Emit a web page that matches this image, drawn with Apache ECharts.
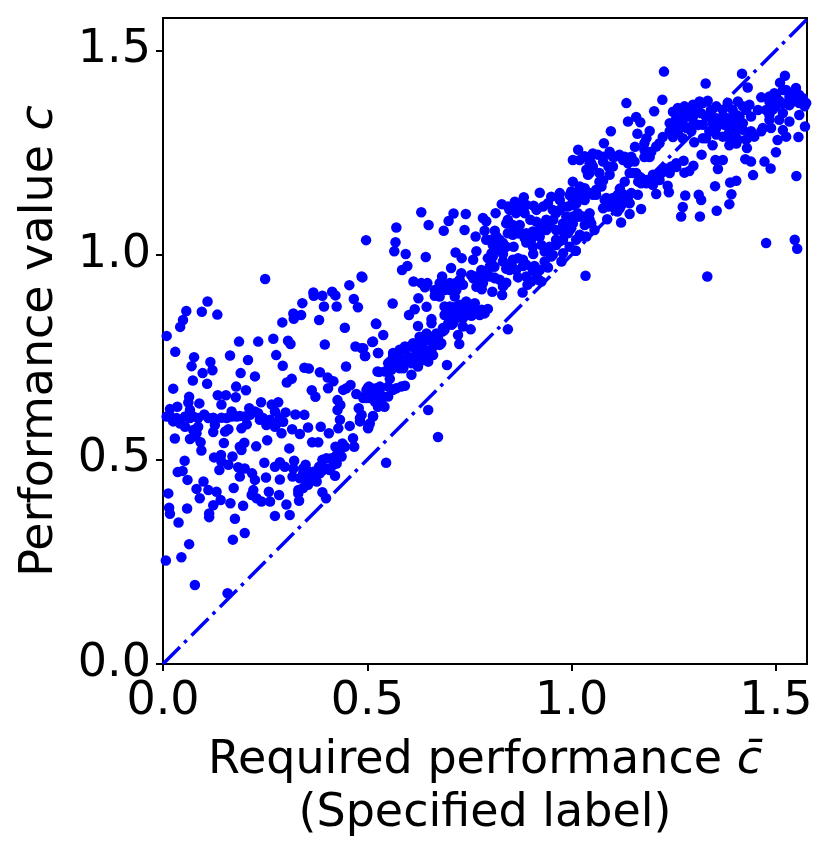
<!DOCTYPE html>
<html><head><meta charset="utf-8">
<style>html,body{margin:0;padding:0;background:#fff}#c{width:831px;height:852px}</style>
<script src="https://cdn.jsdelivr.net/npm/echarts@6/dist/echarts.min.js"></script>
</head><body><div id="c"></div>
<script>
const xLimit = 1.576, yLimit = 1.579;
const diagonal = [[0,0],[1.6,1.6]];
const lowRange = [[.25,.941],[.486,.947],[.456,.926],[.368,.908],[.369,.9],[.39,.9],[.414,.91],[.422,.901],[.467,.892],[.477,.872],[.425,.874],[.394,.874],[.341,.882],[.319,.857],[.338,.853],[.32,.844],[.292,.835],[.382,.841],[.109,.886],[.057,.863],[.095,.861],[.133,.854],[.049,.841],[.042,.824],[.009,.802],[.445,.822],[.521,.832],[.186,.788],[.233,.788],[.27,.795],[.306,.79],[.312,.782],[.396,.781],[.514,.788],[.471,.776],[.49,.772],[.495,.753],[.526,.76],[.03,.763],[.076,.75],[.164,.754],[.208,.743],[.277,.755],[.116,.738],[.07,.728],[.121,.718],[.293,.729],[.346,.724],[.357,.722],[.448,.727],[.19,.711],[.097,.711],[.225,.703],[.384,.713],[.403,.7],[.417,.691],[.404,.674],[.525,.715],[.073,.693],[.108,.685],[.315,.697],[.303,.688],[.179,.678],[.203,.669],[.025,.673],[.364,.669],[.373,.653],[.134,.657],[.154,.657],[.178,.652],[.143,.634],[.064,.653],[.089,.637],[.062,.639],
[.017,.623],[.035,.629],[.009,.605],[.025,.593],[.042,.588],[.054,.58],[.066,.621],[.074,.605],[.086,.58],[.101,.61],[.123,.602],[.143,.602],[.168,.617],[.168,.605],[.188,.606],[.211,.625],[.213,.609],[.233,.613],[.24,.64],[.266,.634],[.282,.64],[.274,.617],[.3,.615],[.324,.61],[.346,.609],[.237,.597],[.253,.584],[.274,.58],[.29,.564],[.294,.592],[.316,.574],[.335,.562],[.355,.578],[.386,.58],[.406,.564],[.205,.586],[.192,.576],[.16,.574],[.152,.568],[.123,.567],[.127,.584],[.029,.551],[.066,.55],[.078,.556],[.092,.542],[.094,.522],[.149,.54],[.199,.541],[.188,.531],[.192,.523],[.228,.532],[.255,.547],[.309,.527],[.365,.542],[.38,.542],
[.427,.645],[.434,.633],[.427,.621],[.433,.597],[.429,.576],[.441,.67],[.459,.682],[.473,.66],[.502,.676],[.522,.674],[.506,.65],[.479,.625],[.486,.609],[.514,.606],[.457,.582],[.482,.593],[.502,.576],[.465,.552],[.468,.531],[.439,.539],[.422,.531],[.437,.507],
[.125,.505],[.142,.511],[.17,.507],[.143,.495],[.16,.487],[.138,.474],[.053,.497],[.036,.469],[.048,.472],[.06,.45],[.184,.481],[.2,.478],[.188,.458],[.218,.466],[.225,.45],[.252,.456],[.248,.492],[.274,.482],[.286,.493],[.298,.482],[.286,.451],[.321,.497],[.319,.478],[.317,.458],[.349,.487],[.343,.466],[.359,.458],[.376,.446],[.39,.499],[.392,.474],[.412,.503],[.408,.474],[.421,.46],[.425,.49],
[.099,.446],[.082,.428],[.111,.425],[.131,.421],[.09,.405],[.141,.401],[.123,.388],[.113,.368],[.113,.359],[.173,.43],[.165,.393],[.196,.387],[.176,.355],[.2,.32],[.171,.304],[.221,.425],[.217,.413],[.229,.405],[.241,.397],[.262,.397],[.259,.421],[.284,.413],[.302,.39],[.274,.362],[.31,.364],[.331,.417],[.333,.399],[.343,.43],[.355,.438],[.39,.42],[.399,.405],[.013,.417],[.015,.382],[.017,.367],[.059,.38],[.038,.346],[.064,.293],[.045,.261],[.007,.253],[.078,.193],[.158,.173],
[.351,.474],[.368,.47],[.384,.466],[.4,.478],[.417,.487],[.335,.454],[.351,.446],[.363,.454],[.382,.482],[.4,.503],[.331,.425],[.343,.478],[.017,.605],[.033,.601],[.054,.605],[.066,.601],[.086,.601],[.111,.601],[.156,.601],[.18,.605],[.2,.605],[.225,.617],[.245,.601],[.262,.597],[.286,.601],[.278,.588],[.074,.572],[.082,.564],[.498,.67],[.514,.657],[.526,.65],[.49,.65],[.526,.629],[.482,.601],[.506,.588],[.433,.523],[.425,.511],[.445,.531],[.449,.674]];
const midRange = [[.632,1.104],[.65,1.073],[.711,1.101],[.741,1.1],[.699,1.083],[.687,1.059],[.738,1.061],[.571,1.067],[.497,1.036],[.569,1.031],[.566,1.009],[.594,1.002],[.643,.995],[.598,.973],[.585,.963],[.488,.945],[.613,.935],[.632,.931],[.647,.931],[.641,.921],[.683,.947],[.705,.968],[.716,1.006],[.731,.992],[.759,.988],[.767,1.009],[.783,1.09],[.791,1.082],[.765,1.045],[.787,1.059],[.812,1.059],[.814,1.102],[.829,1.124],[.856,1.118],[.883,1.141],[.864,1.102],[.84,1.077],[.873,1.073],[.899,1.086],[.907,1.12],[.922,1.152],[.942,1.126],[.971,1.134],[.995,1.146],[1.003,1.122],[.962,1.102],[.946,1.073],[.987,1.094],[.995,1.061],[1.02,1.045],[.856,1.049],[.889,1.03],[.922,1.045],[.905,1.057],[.858,1.02],[.791,1.037],[.807,1.024],[.832,1.002],[.807,.996],[.8,.972],[.784,.955],[.754,.951],[.73,.955],[.734,.927],[.718,.914],[.702,.931],[.677,.931],[.665,.9],[.625,.894],[.645,.873],[.562,.881],[.616,.867],[.602,.853],[.689,.874],[.718,.874],[.742,.886],[.763,.882],[.795,.868],[.787,.857],[.767,.857],[.726,.857],[.698,.851],[.657,.843],[.755,.851],[.734,.825],[.753,.818],[.722,.804],[.725,.782],[.706,.829],[.689,.817],[.657,.833],[.522,.831],[.624,.826],[.628,.8],[.539,.804],[.512,.787],[.653,.8],[.677,.78],[.661,.755],[.612,.784],[.592,.776],[.563,.76],[.527,.76],[.494,.753],[.486,.772],[.649,.739],[.624,.727],[.588,.743],[.555,.739],[.695,.731],[.608,.707],[.579,.723],[.529,.714],[.555,.697],[.592,.68],[.563,.67],[.649,.621],[.673,.555],[.546,.492],[.504,.678],[.522,.67],[.538,.654],[.542,.629],[.494,.654],[.514,.605],[.502,.578],[.844,.818],[.88,.908],[.892,.927],[.83,.902],[.806,.91],[.78,.916],[.811,.945],[.84,.932],[.869,.945],[.919,.939],[.942,.969],[.881,.973],[.84,.966],[.856,.988],[.881,.988],[.906,1.002],[.909,.973],[.954,1],[.975,.984],[1.01,1.01],[.934,1.008],[.971,1.033],
[.498,.662],[.51,.674],[.53,.67],[.522,.65],[.551,.654],[.571,.674],[.583,.678],[.543,.715],[.559,.719],[.563,.735],[.579,.739],[.6,.751],[.575,.76],[.592,.768],[.615,.772],[.629,.76],[.637,.772],[.615,.751],[.637,.743],[.656,.792],[.673,.8],[.685,.813],[.645,.808],[.698,.833],[.71,.833],[.726,.878],[.742,.874],[.755,.878],[.734,.861],[.751,.853],[.714,.857],[.693,.857],[.78,.866],[.677,.914],[.69,.927],[.665,.914],[.716,.931],[.771,.939],[.783,.931],[.767,.922],[.799,.947],[.803,.984],[.816,1.013],[.803,1.037],[.954,1.11],[.979,1.118],[1.012,1.126],[1.008,1.147],[.971,1.151],[.938,1.086],[.962,1.061],[.979,1.057],[.938,1.061],[.926,1.065],[.848,1.11],[.864,1.126],[.885,1.102],[.844,1.053],[.873,1.053],[.889,1.053],[.946,1.02],[.962,1.037],
[.702,.874],[.689,.853],[.718,.845],[.734,.845],[.742,.857],[.763,.87],[.775,.853],[.685,.821],[.669,.808],[.645,.792],[.628,.788],[.604,.776],[.579,.768],[.563,.751],[.551,.735],[.571,.727],[.588,.723],[.608,.735],[.624,.747],[.645,.76],[.661,.776],[.681,.784],[.531,.678],[.506,.666],[.498,.65],[.519,.641],[.535,.637],[.551,.678],[.702,.914],[.714,.898],[.677,.898],[.689,.914],[.726,.939],[.759,.943],[.775,.931],[.795,.963],[.804,1.004],[.824,1.012],[.832,.923],[.812,.943],[.824,.939],[.853,.976],[.869,.992],[.889,.976],[.905,.963],[.914,.951],[.926,.935],[.942,1.012],[.962,1.024],[.979,1.037],[.991,1.053],[.922,1.061],[.934,1.077],[.914,1.081],[.955,1.086],[.979,1.077],[1.003,1.077],[1.015,1.102],[1.015,1.134],[.991,1.118],[.971,1.11],[.95,1.142],[.93,1.118],[.914,1.11],[.889,1.122],[.873,1.118],[.844,1.086],[.856,1.073],[.869,1.053],[.885,1.041],[.901,1.037],[.844,1.118],[.861,1.13],
[.811,.971],[.832,.984],[.848,.963],[.864,.963],[.889,.947],[.901,.935],[.922,.963],[.934,.984],[.95,.996],[.979,1.004],[.995,1.02],[1.011,1.037],[.905,1.02],[.926,1.024],[.832,1.029],[.824,1.037],[.816,1.045],[.84,1.02],[.795,.992],[.779,.963],[.767,.947]];
const highRange = [[1.226,1.448],[1.417,1.443],[1.328,1.419],[1.522,1.438],[1.431,1.409],[1.51,1.421],[1.134,1.371],[1.222,1.379],[1.202,1.351],[1.464,1.385],[1.248,1.35],[1.26,1.359],[1.276,1.363],[1.297,1.367],[1.313,1.375],[1.333,1.377],[1.354,1.363],[1.382,1.372],[1.407,1.375],[1.435,1.367],[1.456,1.354],[1.439,1.338],[1.484,1.342],[1.496,1.395],[1.517,1.403],[1.549,1.408],[1.557,1.391],[1.533,1.386],[1.508,1.377],[1.557,1.342],[1.571,1.314],[1.533,1.366],[1.5,1.363],[1.533,1.326],[1.525,1.289],[1.555,1.288],[1.504,1.281],[1.5,1.251],[1.488,1.31],[1.464,1.302],[1.439,1.302],[1.427,1.282],[1.429,1.261],[1.403,1.272],[1.386,1.268],[1.37,1.289],[1.345,1.268],[1.318,1.245],[1.3,1.275],[1.272,1.285],[1.248,1.288],[1.24,1.302],[1.252,1.314],[1.256,1.334],[1.285,1.338],[1.281,1.31],[1.309,1.318],[1.317,1.346],[1.337,1.302],[1.329,1.285],[1.362,1.326],[1.394,1.322],[1.411,1.338],[1.386,1.302],[1.419,1.306],[1.354,1.334],[1.293,1.302],[1.223,1.288],[1.207,1.265],[1.191,1.239],[1.178,1.257],[1.155,1.264],[1.191,1.303],[1.183,1.285],[1.161,1.296],[1.138,1.326],[1.158,1.337],[1.168,1.324],[1.096,1.302],[1.079,1.273],[1.016,1.257],[1.052,1.248],[1.032,1.241],[1.003,1.232],[1.093,1.252],[1.117,1.245],[1.146,1.24],[1.154,1.228],[1.048,1.224],[1.077,1.228],[1.101,1.216],[1.142,1.2],[1.04,1.196],[1.093,1.196],[1.068,1.2],[1.166,1.191],[1.183,1.183],[1.207,1.196],[1.227,1.212],[1.256,1.224],[1.274,1.23],[1.256,1.215],[1.276,1.201],[1.298,1.218],[1.288,1.205],[1.352,1.232],[1.37,1.232],[1.358,1.21],[1.425,1.234],[1.439,1.228],[1.444,1.195],[1.472,1.228],[1.487,1.211],[1.55,1.193],[1.17,1.175],[1.199,1.171],[1.235,1.169],[1.238,1.153],[1.207,1.149],[1.351,1.168],[1.388,1.177],[1.403,1.181],[1.391,1.148],[1.386,1.124],[1.355,1.108],[1.278,1.145],[1.311,1.147],[1.317,1.134],[1.272,1.117],[1.268,1.094],[1.314,1.094],[1.17,1.112],[1.142,1.1],[1.121,1.079],[1.112,1.106],[1.087,1.087],[1.077,1.114],[1.097,1.127],[1.118,1.162],[1.13,1.179],[1.126,1.148],[1.142,1.126],[1.162,1.147],[1.06,1.147],[1.073,1.167],[1.077,1.182],[1.044,1.102],[1.048,1.077],[1.032,1.163],[1.016,1.134],[1.003,1.179],[1.016,1.094],[1.02,1.049],[1.036,1.045],[.999,1.065],[1.01,1.01],[1.034,.949],[1.332,.947],[1.476,1.029],[1.546,1.037],[1.552,1.015],
[1.24,1.322],[1.264,1.322],[1.273,1.342],[1.297,1.338],[1.297,1.318],[1.321,1.318],[1.337,1.338],[1.345,1.322],[1.341,1.355],[1.37,1.355],[1.394,1.355],[1.419,1.363],[1.427,1.354],[1.403,1.302],[1.435,1.289],[1.382,1.334],[1.411,1.318],[1.354,1.294],[1.321,1.285],[1.484,1.375],[1.5,1.387],[1.476,1.354],[1.484,1.33],[1.517,1.347],[1.508,1.33],[1.517,1.305],[1.533,1.395],[1.557,1.371],[1.57,1.363],[1.566,1.383],[1.02,1.232],[1.044,1.236],[1.064,1.245],[1.101,1.24],[1.126,1.232],[1.138,1.224],[1.15,1.2],[1.163,1.179],[1.183,1.175],[1.199,1.196],[1.22,1.2],[1.244,1.216],[1.178,1.239],[1.195,1.252],[1.215,1.273],[1.044,1.2],[1.052,1.216],[1.02,1.167],[1.003,1.151],[1.007,1.13],[1.032,1.134],[1.052,1.147],[1.085,1.139],[1.109,1.126],[1.09,1.118],[1.118,1.114],[1.113,1.147],[1.138,1.143],[1.003,1.094],[1.028,1.094],[1.032,1.073],[1.056,1.061],
[1.248,1.302],[1.26,1.302],[1.272,1.322],[1.288,1.355],[1.309,1.355],[1.321,1.371],[1.329,1.338],[1.354,1.31],[1.374,1.318],[1.37,1.338],[1.403,1.342],[1.419,1.322],[1.386,1.285],[1.407,1.282],[1.447,1.289],[1.468,1.31],[1.492,1.355],[1.517,1.37],[1.541,1.375],[1.525,1.403],[1.5,1.391],[1.484,1.387],[1.549,1.395],[1.574,1.371],[1.077,1.24],[1.105,1.24],[1.13,1.24],[1.09,1.216],[1.044,1.224],[1.036,1.208],[1.068,1.179],[1.06,1.159],[1.044,1.151],[1.028,1.143],[1.003,1.134],[.999,1.155],[1.02,1.151],[1.081,1.134],[1.101,1.139],[1.146,1.151],[1.126,1.126],[1.105,1.114],[1.044,1.086],[1.02,1.094],[1.158,1.2],[1.17,1.188],[1.195,1.175],[1.215,1.183],[1.24,1.2],[1.178,1.273]];
const tickValues = [0,0.5,1,1.5];
const tickLabels = ['0.0','0.5','1.0','1.5'];
const yAxisTitle = 'Performance value {i|c}';
const xAxisTitle = 'Required performance {i|c\u0304}\n(Specified label)';

const font = 'DejaVu Sans';
const chart = echarts.init(document.getElementById('c'), null, {renderer:'canvas'});
const axisBase = {
  type:'value', min:0, splitLine:{show:false},
  axisLine:{show:true,onZero:false,lineStyle:{color:'#000',width:2}},
  axisTick:{show:true,length:7,customValues:tickValues,lineStyle:{color:'#000',width:2}},
  axisLabel:{color:'#000',fontFamily:font,fontSize:46,margin:12,customValues:tickValues,
    formatter:v=>tickLabels[tickValues.indexOf(v)]},
  nameLocation:'middle',
  nameTextStyle:{color:'#000',fontFamily:font,fontSize:46,lineHeight:53,
    rich:{i:{fontFamily:font,fontStyle:'italic',fontSize:46,color:'#000',lineHeight:53}}}
};
chart.setOption({
  animation:false, backgroundColor:'#fff',
  grid:{left:163,right:24,top:18,bottom:188,show:true,borderColor:'#000',borderWidth:2,backgroundColor:'#fff',outerBoundsMode:'none',containLabel:false},
  xAxis:Object.assign({},axisBase,{max:xLimit,name:xAxisTitle,nameGap:71,
    axisLabel:Object.assign({},axisBase.axisLabel,{margin:15})}),
  yAxis:Object.assign({},axisBase,{max:yLimit,name:yAxisTitle,nameGap:96,
    axisLabel:Object.assign({},axisBase.axisLabel,{padding:[5,0,0,0]})}),
  series:[
    {type:'line',data:diagonal,symbol:'none',silent:true,clip:true,z:2,
     lineStyle:{color:'#0000ff',width:3.5,type:[24,6,3.5,6.8],cap:'butt'}},
    {type:'scatter',data:lowRange.concat(midRange,highRange),symbol:'circle',symbolSize:10.5,clip:true,z:3,
     itemStyle:{color:'#0000ff',opacity:1}}
  ]
});
</script></body></html>
